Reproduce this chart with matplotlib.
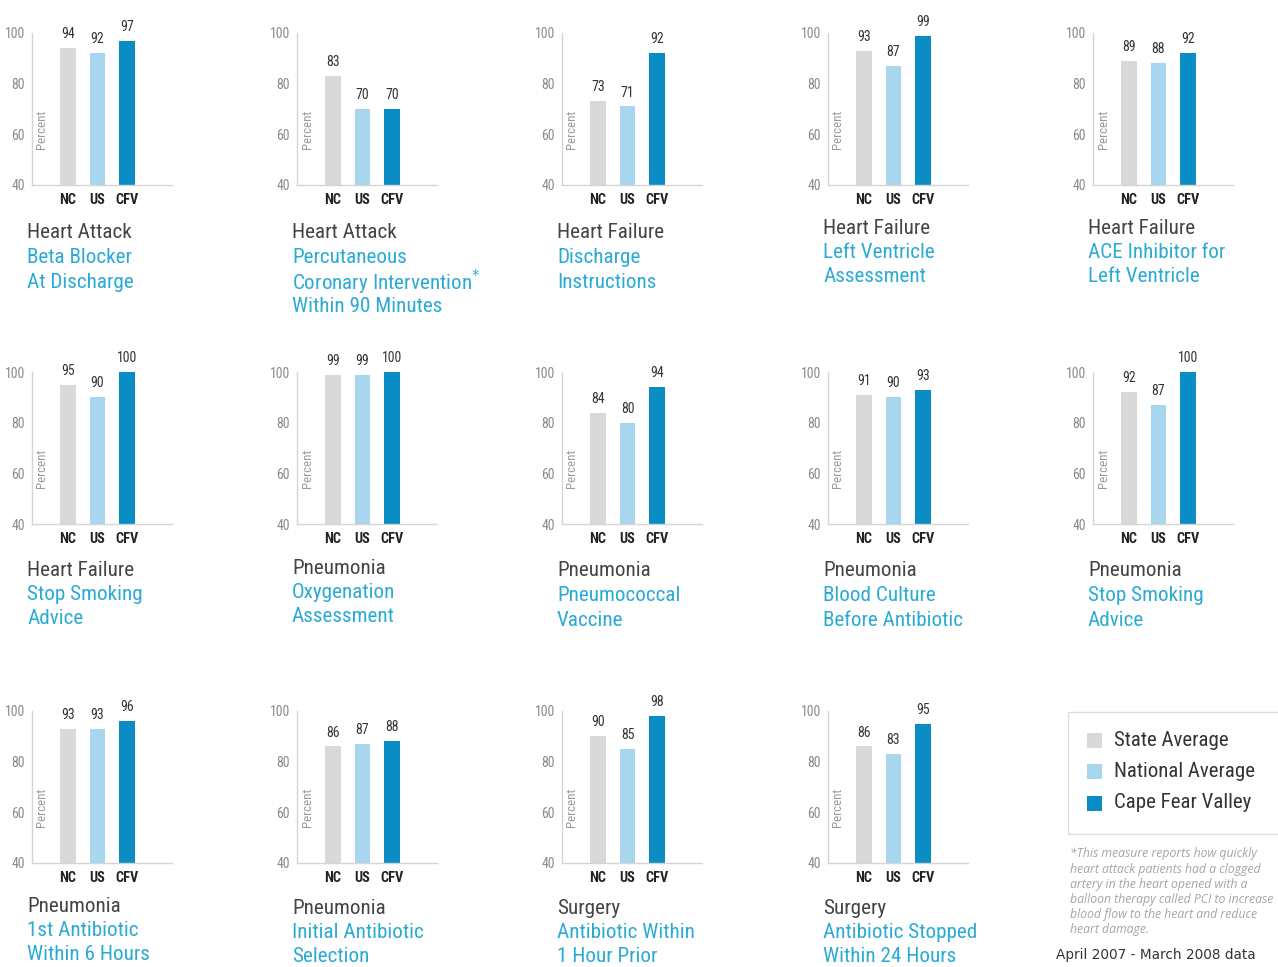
import matplotlib
matplotlib.use('Agg')
import matplotlib.pyplot as plt
from matplotlib.patches import Rectangle
from matplotlib import font_manager as fm

W, H = 1278, 967

# ---------------- data ----------------
groups = ['NC', 'US', 'CFV']
state_avg = [94, 83, 73, 93, 89, 95, 99, 84, 91, 92, 93, 86, 90, 86]
national_avg = [92, 70, 71, 87, 88, 90, 99, 80, 90, 87, 93, 87, 85, 83]
cape_fear = [97, 70, 92, 99, 92, 100, 100, 94, 93, 100, 96, 88, 98, 95]
measures = ['Heart Attack', 'Heart Attack', 'Heart Failure', 'Heart Failure', 'Heart Failure',
            'Heart Failure', 'Pneumonia', 'Pneumonia', 'Pneumonia', 'Pneumonia',
            'Pneumonia', 'Pneumonia', 'Surgery', 'Surgery']
subtitles = [
    ['Beta Blocker', 'At Discharge'],
    ['Percutaneous', 'Coronary Intervention$^{*}$', 'Within 90 Minutes'],
    ['Discharge', 'Instructions'],
    ['Left Ventricle', 'Assessment'],
    ['ACE Inhibitor for', 'Left Ventricle'],
    ['Stop Smoking', 'Advice'],
    ['Oxygenation', 'Assessment'],
    ['Pneumococcal', 'Vaccine'],
    ['Blood Culture', 'Before Antibiotic'],
    ['Stop Smoking', 'Advice'],
    ['1st Antibiotic', 'Within 6 Hours'],
    ['Initial Antibiotic', 'Selection'],
    ['Antibiotic Within', '1 Hour Prior'],
    ['Antibiotic Stopped', 'Within 24 Hours'],
]
yticks = [40, 60, 80, 100]
legend_labels = ['State Average', 'National Average', 'Cape Fear Valley']
footnote = ['*This measure reports how quickly',
            'heart attack patients had a clogged',
            'artery in the heart opened with a',
            'balloon therapy called PCI to increase',
            'blood flow to the heart and reduce',
            'heart damage.']
date_note = 'April 2007 - March 2008 data'

# ---------------- fonts ----------------
names = {}
for f in fm.fontManager.ttflist:
    names.setdefault(f.name, set()).add(str(f.stretch))


def pick_font():
    for nm in ['Roboto Condensed', 'Liberation Sans Narrow', 'Open Sans Condensed',
               'DejaVu Sans Condensed', 'Noto Sans Condensed']:
        if nm in names:
            return dict(family=nm, fontstretch='normal')
    for nm in ['DejaVu Sans', 'Open Sans', 'Noto Sans', 'Roboto']:
        st = names.get(nm, set())
        for s in ['condensed', 'semi-condensed', '75', '87.5']:
            if s in st:
                return dict(family=nm, fontstretch=s)
    return dict(family='Liberation Sans', fontstretch='normal')


NF = pick_font()

# ---------------- style / layout ----------------
colors = ['#D9D9D9', '#A8D6EE', '#0A8DC4']
title_dark = '#444444'
title_blue = '#2AAAD5'

col_x = [32, 297, 562, 828, 1093]
row_top = [33, 372, 711]
row_base = [185, 524, 863]
title_y = [233, 233, 233, 228, 228, 570, 568, 571, 571, 571, 907, 909, 909, 909]
line_gap = [24.5, 24.5, 23.5]
ax_w = 140
unit_px = 29.5
x0_units = 36 / unit_px

fig = plt.figure(figsize=(W / 100, H / 100), dpi=100)
fig.patch.set_facecolor('white')
renderer = fig.canvas.get_renderer()


def fit_size(text, target_px, **kw):
    t = fig.text(0, 0, text, fontsize=10, **kw)
    w = t.get_window_extent(renderer).width
    t.remove()
    return 10 * target_px / w


title_fs = fit_size('Coronary Intervention', 178, **NF)
legend_fs = fit_size('National Average', 140, **NF)
cat_fs = fit_size('CFV', 23, fontweight='bold', **NF)
val_fs = fit_size('100', 20, **NF)
tick_fs = fit_size('100', 20, **NF)
pct_fs = fit_size('Percent', 39, **NF)
foot_kw = dict(family=['Open Sans', 'DejaVu Sans'], style='italic')
foot_fs = fit_size('balloon therapy called PCI to increase', 203, **foot_kw)
date_fs = fit_size(date_note, 200, family='DejaVu Sans')


def fx(x):
    return x / W


def fy(y):
    return 1 - y / H


for i in range(len(measures)):
    r, c = divmod(i, 5)
    left = col_x[c]
    top = row_top[r]
    base = row_base[r]
    ax = fig.add_axes([fx(left), fy(base), ax_w / W, (base - top) / H])
    vals = [state_avg[i], national_avg[i], cape_fear[i]]
    xs = list(range(len(groups)))
    ax.bar(xs, [v - 40 for v in vals], bottom=40, width=0.54, color=colors, zorder=2)
    ax.set_xlim(-x0_units, -x0_units + ax_w / unit_px)
    ax.set_ylim(40, 100)
    ax.set_yticks(yticks)
    ax.set_yticklabels([str(t) for t in yticks], fontsize=tick_fs, color='#8A8A8A', **NF)
    ax.set_xticks(xs)
    ax.set_xticklabels(groups, fontsize=cat_fs, color='#222222', fontweight='bold', **NF)
    ax.tick_params(axis='both', length=0)
    ax.tick_params(axis='x', pad=6)
    ax.tick_params(axis='y', pad=5)
    for s in ['top', 'right']:
        ax.spines[s].set_visible(False)
    for s in ['left', 'bottom']:
        ax.spines[s].set_color('#D5D5D5')
        ax.spines[s].set_linewidth(1)
    ax.patch.set_alpha(0)
    for x, v in zip(xs, vals):
        ax.annotate(str(v), (x, v), xytext=(0, 5), textcoords='offset points',
                    ha='center', va='bottom', fontsize=val_fs, color='#333333', **NF)
    ax.text(-x0_units + 10 / unit_px, 62, 'Percent', rotation=90, ha='center', va='center',
            fontsize=pct_fs, color='#9A9A9A', **NF)

    tx = left - 5
    ty = title_y[i]
    fig.text(fx(tx), fy(ty), measures[i], ha='left', va='center',
             fontsize=title_fs, color=title_dark, **NF)
    for k, line in enumerate(subtitles[i]):
        fig.text(fx(tx), fy(ty + line_gap[r] * (k + 1)), line, ha='left', va='center',
                 fontsize=title_fs, color=title_blue, **NF)

# legend box
fig.patches.append(Rectangle((fx(1068), fy(834)), (1285 - 1068) / W, (834 - 712) / H,
                             transform=fig.transFigure, facecolor='white',
                             edgecolor='#DDDDDD', linewidth=1))
for k, (lab, col) in enumerate(zip(legend_labels, colors)):
    cy = 740 + 31.5 * k
    fig.patches.append(Rectangle((fx(1087), fy(cy + 7.5)), 15 / W, 15 / H,
                                 transform=fig.transFigure, facecolor=col, edgecolor='none'))
    fig.text(fx(1114), fy(cy), lab, ha='left', va='center',
             fontsize=legend_fs, color='#333333', **NF)

for k, line in enumerate(footnote):
    fig.text(fx(1070), fy(854 + 15.2 * k), line, ha='left', va='center',
             fontsize=foot_fs, color='#A5A5A5', **foot_kw)

fig.text(fx(1056), fy(955), date_note, ha='left', va='center', family='DejaVu Sans',
         fontsize=date_fs, color='#333333')

fig.savefig('out.png', dpi=100, facecolor='white')
